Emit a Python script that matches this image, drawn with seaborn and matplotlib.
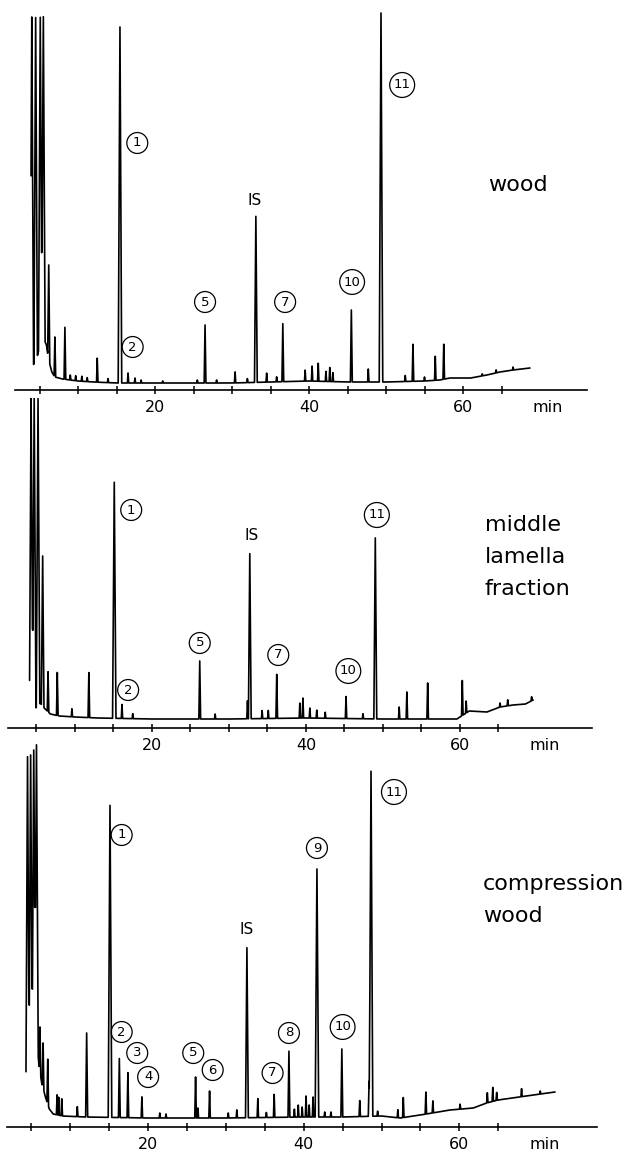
"""Pyrolysis GC traces of wood, middle lamella fraction and compression wood."""

import matplotlib

matplotlib.use("Agg")
import matplotlib.pyplot as plt
import numpy as np
import pandas as pd
import seaborn as sns

# ---- wood ------------------------------------------------------------------
WOOD_BASE_T = [3.9, 4.2, 4.75, 5.35, 5.9, 6.2, 6.6, 7.0, 8.0, 10.0, 12.0, 15.0,
               20.0, 30.0, 40.0, 45.0, 50.0, 55.0, 57.0, 58.3, 61.0, 63.1,
               64.8, 66.5, 68.7]
WOOD_BASE_Y = [13, 25, 35, 55, 45, 30, 18, 13, 11, 9, 8, 7, 7, 7, 9, 8, 8, 9,
               10, 12, 12, 15, 18, 20, 22]
WOOD_PEAK_T = [4.0, 4.5, 5.1, 5.5, 6.2, 7.0, 8.3, 9.0, 9.7, 10.5, 11.2, 12.5,
               13.9, 15.45, 16.5, 17.4, 18.2, 21.0, 25.5, 26.5, 28.0, 30.4,
               32.0, 33.1, 34.5, 35.8, 36.6, 39.5, 40.4, 41.2, 42.2, 42.7,
               43.1, 45.5, 47.7, 49.35, 52.5, 53.5, 55.0, 56.4, 57.5, 62.5,
               64.3, 66.5]
WOOD_PEAK_H = [356, 342, 326, 321, 95, 40, 52, 5, 5, 5, 4, 24, 4, 356, 10,
               5, 3, 2, 3, 58, 3, 11, 4, 166, 9, 5, 58, 11, 15, 18, 10, 14, 9,
               72, 13, 369, 6, 37, 4, 24, 35, 2, 3, 3]
WOOD_LABELS = ["1", "2", "5", "IS", "7", "10", "11"]
WOOD_LABEL_T = [17.7, 17.1, 26.5, 33.0, 36.9, 45.6, 52.1]
WOOD_LABEL_Y = [247, 43, 88, 190, 88, 108, 305]

# ---- middle lamella fraction ---------------------------------------------
ML_BASE_T = [4.1, 4.4, 4.9, 5.5, 6.0, 6.8, 8.0, 10.0, 13.0, 20.0, 30.0, 40.0,
             50.0, 56.5, 59.6, 61.2, 63.5, 65.2, 66.9, 68.5, 69.5]
ML_BASE_Y = [6, 15, 20, 25, 20, 14, 12, 11, 10, 9, 9, 10, 9, 9, 9, 17, 16, 21,
             23, 24, 28]
ML_PEAK_T = [4.3, 4.7, 5.2, 5.8, 6.5, 7.7, 9.6, 11.8, 15.1, 16.1, 17.5, 26.2,
             28.2, 32.4, 32.7, 34.3, 35.1, 36.2, 39.2, 39.6, 40.5, 41.4, 42.5,
             45.2, 47.4, 49.0, 52.1, 53.1, 55.8, 60.3, 60.8, 65.2, 66.2, 69.3]
ML_PEAK_H = [319, 312, 307, 150, 40, 43, 8, 45, 236, 14, 5, 58, 5, 18, 165,
             8, 8, 44, 15, 20, 10, 8, 6, 22, 5, 181, 12, 27, 36, 35, 12, 4, 6,
             4]
ML_LABELS = ["1", "2", "5", "IS", "7", "10", "11"]
ML_LABEL_T = [17.3, 16.9, 26.2, 32.9, 36.4, 45.5, 49.2]
ML_LABEL_Y = [218, 38, 85, 192, 73, 57, 213]

# ---- compression wood ------------------------------------------------------
CW_BASE_T = [4.3, 4.6, 5.0, 5.4, 5.75, 6.0, 6.3, 6.8, 7.3, 7.8, 9.0, 12.0,
             20.0, 30.0, 40.0, 45.0, 50.0, 52.4, 55.0, 58.8, 61.8, 63.5, 65.0,
             69.5, 72.3]
CW_BASE_Y = [10, 30, 50, 70, 80, 60, 45, 30, 18, 13, 11, 10, 9, 9, 10, 10, 11,
             9, 12, 17, 19, 24, 27, 32, 35]
CW_PEAK_T = [4.5, 4.9, 5.3, 5.65, 6.1, 6.5, 7.1, 8.3, 8.5, 8.9, 10.9,
             12.1, 15.1, 16.3, 17.4, 19.2, 21.5, 22.3, 26.1, 26.4, 27.9, 30.3,
             31.4, 32.7, 34.1, 35.2, 36.2, 38.1, 38.8, 39.3, 39.8, 40.3, 40.7,
             41.2, 41.7, 42.7, 43.5, 44.9, 47.2, 48.4, 48.65, 49.5, 52.1, 52.8,
             55.7, 56.6, 60.1, 63.6, 64.3, 64.8, 68.0, 70.4]
CW_PEAK_H = [347, 327, 312, 305, 45, 45, 45, 20, 18, 17, 10, 84,
             312, 59, 45, 21, 5, 4, 41, 10, 27, 5, 8, 170, 19, 5, 23, 66, 8, 12,
             10, 21, 12, 20, 248, 5, 5, 68, 16, 35, 345, 5, 8, 20, 22, 12, 5,
             10, 14, 8, 8, 3]
CW_LABELS = ["1", "2", "3", "4", "5", "6", "IS", "7", "8", "9", "10", "11"]
CW_LABEL_T = [16.6, 16.6, 18.6, 20.0, 25.8, 28.3, 32.7, 36.0, 38.1, 41.7,
              45.0, 51.6]
CW_LABEL_Y = [292, 95, 74, 50, 74, 57, 197, 54, 94, 279, 100, 335]

TICKS = [5, 10, 15, 20, 25, 30, 35, 40, 45, 50, 55, 60, 65]
TICK_LABELS = ["", "", "", "20", "", "", "", "40", "", "", "", "60", ""]


def build_trace(base_t, base_y, peak_t, peak_h):
    """Baseline plus triangular peaks, evaluated at every peak and knot vertex."""
    base_t = np.asarray(base_t, float)
    base_y = np.asarray(base_y, float)
    pt = np.asarray(peak_t, float)
    ph = np.asarray(peak_h, float)
    pw = 0.08 + 0.0006 * np.minimum(ph, 250)

    verts = np.concatenate([base_t, pt - pw, pt, pt + pw])
    verts = np.unique(verts[(verts >= base_t[0]) & (verts <= base_t[-1])])
    tri = ph[None, :] * np.clip(1 - np.abs(verts[:, None] - pt[None, :]) / pw[None, :], 0, None)
    signal = np.interp(verts, base_t, base_y) + tri.max(axis=1)
    return pd.DataFrame({"time": verts, "signal": signal})


def draw_panel(fig, rect, ylim, span, trace, labels, label_t, label_y,
               name, name_t, name_y, linespacing=1.3):
    ax = fig.add_axes(rect)
    ax.patch.set_visible(False)
    sns.lineplot(data=trace, x="time", y="signal", ax=ax, color="black",
                 lw=1.2, estimator=None, sort=False)
    ax.set_xlim(1, 78)
    ax.set_ylim(0, ylim)
    for side in ("top", "right", "left"):
        ax.spines[side].set_visible(False)
    ax.spines["bottom"].set_bounds(*span)
    ax.spines["bottom"].set_linewidth(1.2)
    ax.spines["bottom"].set_color("black")
    ax.set_yticks([])
    ax.set_xticks(TICKS)
    ax.set_xticklabels(TICK_LABELS)
    ax.tick_params(axis="x", bottom=True, direction="inout", length=6,
                   width=1.1, color="black", labelcolor="black",
                   labelsize=11.5, pad=4)
    ax.set_xlabel("")
    ax.set_ylabel("")
    ax.annotate("min", xy=(71, 0), xycoords=ax.get_xaxis_transform(),
                xytext=(0, -7), textcoords="offset points", ha="center",
                va="top", fontsize=11.5, color="black")

    for lab, t, y in zip(labels, label_t, label_y):
        if lab == "IS":
            ax.text(t, y, lab, ha="center", va="center", fontsize=11,
                    color="black")
        else:
            ax.text(t, y, lab, ha="center", va="center", fontsize=9.5,
                    color="black",
                    bbox=dict(boxstyle="circle,pad=0.3", fc="none", ec="black",
                              lw=0.9))
    ax.text(name_t, name_y, name, ha="left", va="center", fontsize=16,
            color="black", linespacing=linespacing)
    return ax


sns.set_style("white")
plt.rcParams["font.family"] = ["DejaVu Sans"]
plt.rcParams["text.color"] = "black"

fig = plt.figure(figsize=(6.39, 11.52), dpi=100)
W, H = 639.0, 1152.0

wood = build_trace(WOOD_BASE_T, WOOD_BASE_Y, WOOD_PEAK_T, WOOD_PEAK_H)
draw_panel(fig, [8.7 / W, 1 - 390 / H, 77 * 7.7 / W, 380 / H], 380, (1.8, 76.1),
           wood, WOOD_LABELS, WOOD_LABEL_T, WOOD_LABEL_Y,
           "wood", 63.2, 205)

ml = build_trace(ML_BASE_T, ML_BASE_Y, ML_PEAK_T, ML_PEAK_H)
draw_panel(fig, [5.7 / W, 1 - 728 / H, 77 * 7.7 / W, 330 / H], 330, (1.3, 77.1),
           ml, ML_LABELS, ML_LABEL_T, ML_LABEL_Y,
           "middle\nlamella\nfraction", 63.2, 171, linespacing=1.75)

cw = build_trace(CW_BASE_T, CW_BASE_Y, CW_PEAK_T, CW_PEAK_H)
draw_panel(fig, [0.3 / W, 1 - 1127 / H, 77 * 7.78 / W, 385 / H], 385, (1.9, 77.7),
           cw, CW_LABELS, CW_LABEL_T, CW_LABEL_Y,
           "compression\nwood", 63.0, 227, linespacing=1.75)

fig.savefig("out.png", dpi=100, facecolor="white")
plt.close(fig)
